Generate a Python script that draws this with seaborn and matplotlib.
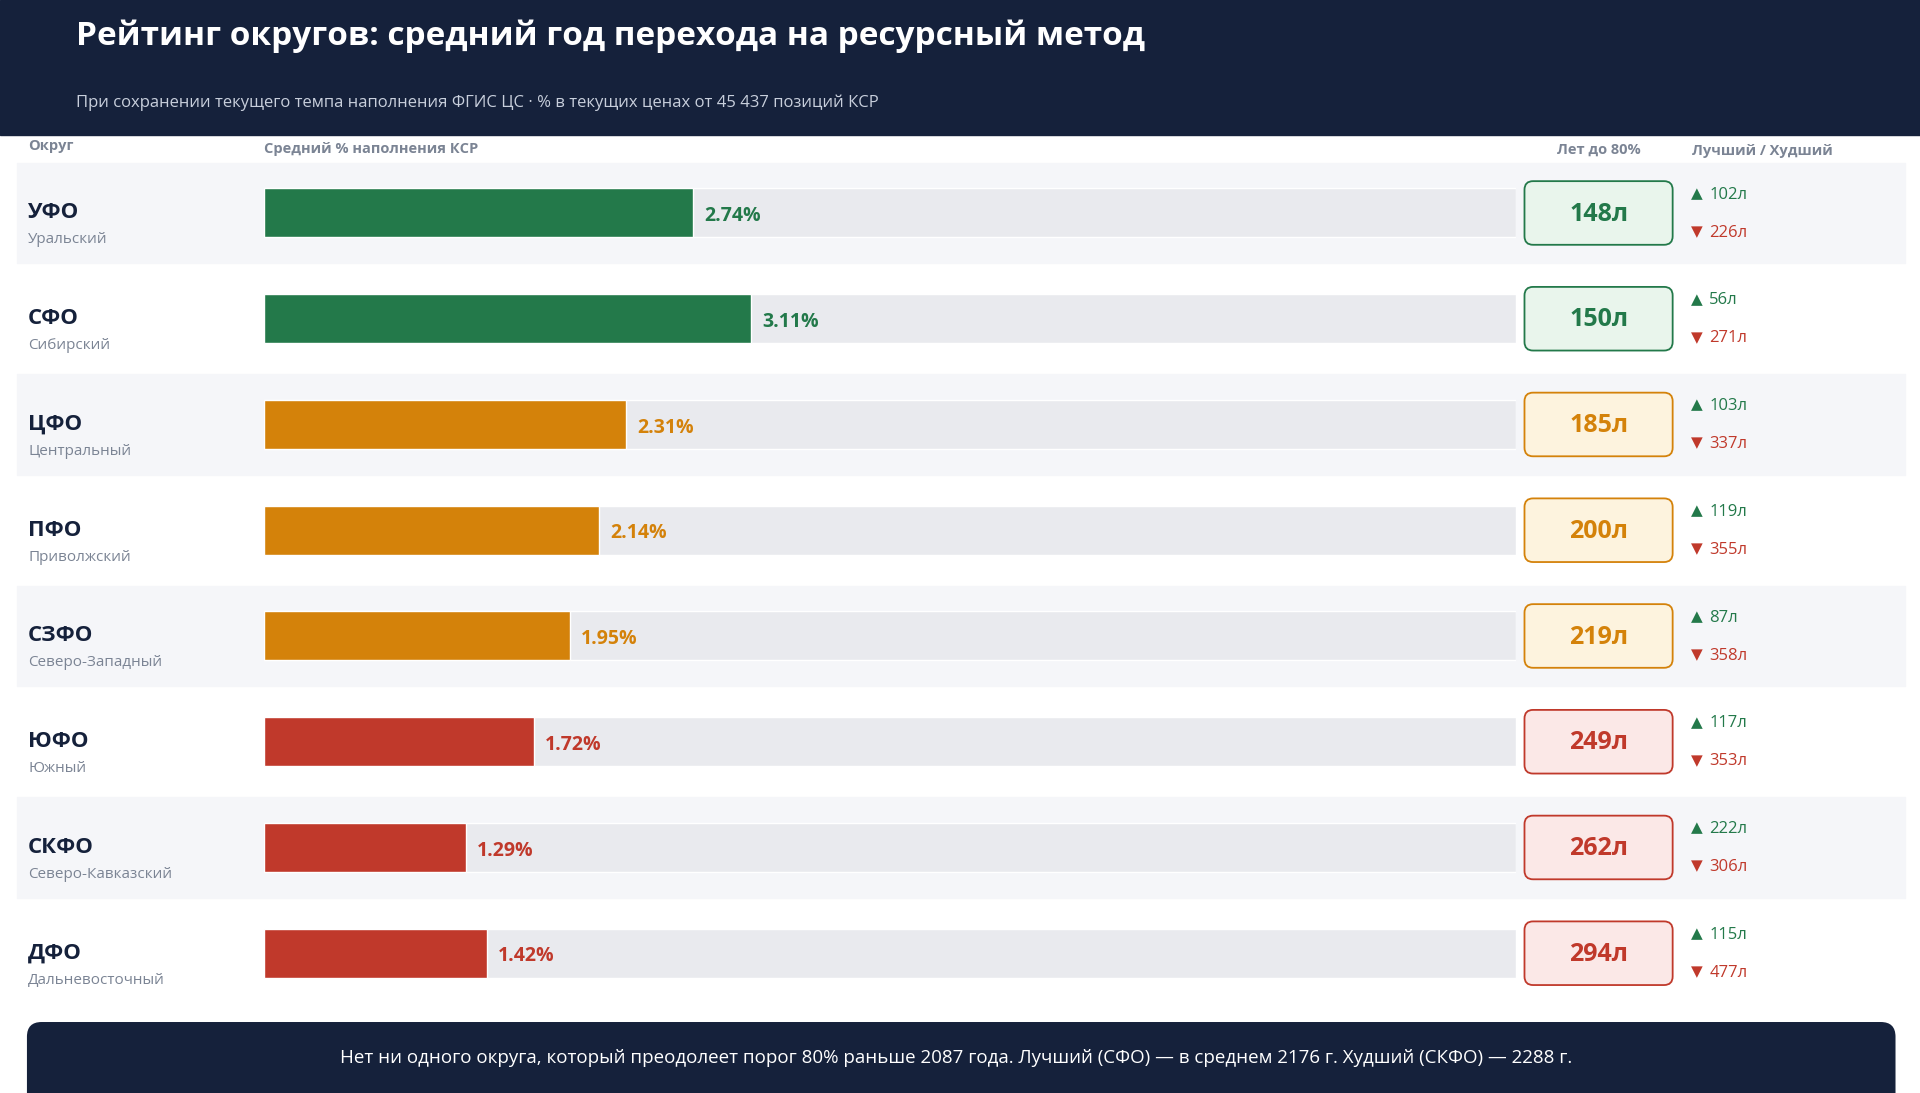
import matplotlib
matplotlib.use("Agg")
import matplotlib.pyplot as plt
import seaborn as sns
from matplotlib.patches import FancyBboxPatch, Rectangle

sns.set_theme(style="white")
plt.rcParams['font.family'] = ['Open Sans', 'DejaVu Sans']

codes = ["УФО", "СФО", "ЦФО", "ПФО", "СЗФО", "ЮФО", "СКФО", "ДФО"]
names = ["Уральский", "Сибирский", "Центральный", "Приволжский", "Северо-Западный",
         "Южный", "Северо-Кавказский", "Дальневосточный"]
fill_pct = [2.74, 3.11, 2.31, 2.14, 1.95, 1.72, 1.29, 1.42]
years_to_80 = [148, 150, 185, 200, 219, 249, 262, 294]
best = [102, 56, 103, 119, 87, 117, 222, 115]
worst = [226, 271, 337, 355, 358, 353, 306, 477]
tier = ["g", "g", "o", "o", "o", "r", "r", "r"]

main = {"g": "#23794a", "o": "#d4820a", "r": "#c0392b"}
soft = {"g": "#e9f5ec", "o": "#fdf3de", "r": "#fbe8e7"}
navy = "#15213b"
W, H = 1568, 893
ROW0, STEP = 174, 86.4

fig = plt.figure(figsize=(19.2, 10.93), dpi=100)
bg = fig.add_axes([0, 0, 1, 1])
bg.set_xlim(0, W); bg.set_ylim(H, 0); bg.axis("off")

# header
bg.add_patch(Rectangle((0, 0), W, 110, color=navy, zorder=0))
bg.text(62, 30, "Рейтинг округов: средний год перехода на ресурсный метод",
        color="white", fontsize=24, fontweight="bold", va="center")
bg.text(62, 84, "При сохранении текущего темпа наполнения ФГИС ЦС · % в текущих ценах от 45 437 позиций КСР",
        color="#c8cfdc", fontsize=12, va="center")

hdr = dict(color="#7b8494", fontsize=10.5, fontweight="bold", va="center")
bg.text(23, 119, "Округ", **hdr)
bg.text(216, 122, "Средний % наполнения КСР", **hdr)
bg.text(1306, 122, "Лет до 80%", ha="center", **hdr)
bg.text(1382, 123, "Лучший / Худший", **hdr)

for i in range(len(codes)):
    y = ROW0 + i * STEP
    if i % 2 == 0:
        bg.add_patch(Rectangle((14, y - 41), 1542, 82, color="#f5f6f9", zorder=0))
    bg.text(23, y, codes[i], color=navy, fontsize=16, fontweight="bold", va="center")
    bg.text(23, y + 22, names[i], color="#7b8494", fontsize=11, va="center")
    c = main[tier[i]]
    bg.add_patch(FancyBboxPatch((1245, y - 26), 121, 52, boxstyle="round,pad=0,rounding_size=7",
                                fc=soft[tier[i]], ec=c, lw=1.3, zorder=2))
    bg.text(1305.5, y + 1, f"{years_to_80[i]}л", color=c, fontsize=18, fontweight="bold",
            ha="center", va="center", zorder=3)
    bg.text(1381, y - 15, "▲", color=main["g"], fontsize=11, va="center")
    bg.text(1396, y - 15, f"{best[i]}л", color=main["g"], fontsize=12, va="center")
    bg.text(1381, y + 16, "▼", color=main["r"], fontsize=11, va="center")
    bg.text(1396, y + 16, f"{worst[i]}л", color=main["r"], fontsize=12, va="center")

# bars
top_px = ROW0 - STEP / 2
ax = fig.add_axes([216 / W, 1 - (top_px + 8 * STEP) / H, 1022 / W, 8 * STEP / H])
ax.set_xlim(0, 8); ax.set_ylim(7.5, -0.5); ax.axis("off")
ax.patch.set_alpha(0)
idx = list(range(len(codes)))
ax.barh(idx, [8] * len(idx), height=0.463, color="#e9eaee", zorder=1)
ax.barh(idx, fill_pct, height=0.463, color=[main[t] for t in tier], zorder=2)
for i, v in enumerate(fill_pct):
    ax.text(v + 0.07, i + 0.03, f"{v:.2f}%", color=main[tier[i]], fontsize=14,
            fontweight="bold", va="center", zorder=3)

# footer
bg.add_patch(FancyBboxPatch((22, 835), 1526, 80, boxstyle="round,pad=0,rounding_size=12",
                            fc=navy, ec="none", zorder=2))
bg.text(781, 864, "Нет ни одного округа, который преодолеет порог 80% раньше 2087 года. "
        "Лучший (СФО) — в среднем 2176 г. Худший (СКФО) — 2288 г.",
        color="white", fontsize=13.5, ha="center", va="center", zorder=3)

fig.savefig("out.png", dpi=100)
